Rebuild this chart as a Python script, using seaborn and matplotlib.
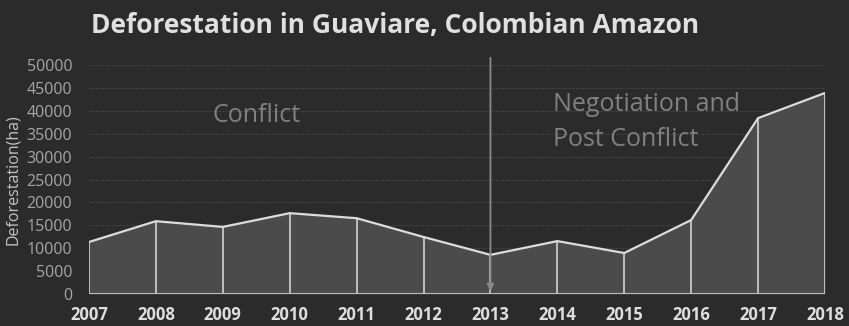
import matplotlib
matplotlib.use("Agg")
import matplotlib.pyplot as plt
import seaborn as sns
import pandas as pd

years = [2007, 2008, 2009, 2010, 2011, 2012, 2013, 2014, 2015, 2016, 2017, 2018]
deforestation = [11350, 15900, 14650, 17650, 16550, 12450, 8550, 11550, 8950, 16150, 38400, 43900]
yticks = [0, 5000, 10000, 15000, 20000, 25000, 30000, 35000, 40000, 45000, 50000]

df = pd.DataFrame({"year": years, "ha": deforestation})

sns.set_style("dark")
plt.rcParams['font.family'] = ['Open Sans', 'DejaVu Sans']

bg = "#2b2b2b"
fig = plt.figure(figsize=(8.49, 3.26), dpi=100, facecolor=bg)
ax = fig.add_axes([89/849, 1-294/326, (825-89)/849, (294-65)/326])
ax.set_facecolor(bg)

ax.fill_between(df["year"], df["ha"], 0, color="#4b4b4b", zorder=2, linewidth=0)
ax.vlines(df["year"], 0, df["ha"], color="#c8c8c8", linewidth=1.3, zorder=3)
sns.lineplot(data=df, x="year", y="ha", ax=ax, color="#dcdcdc", linewidth=1.6, zorder=4)
ax.axhline(0, color="#bdbdbd", linewidth=1.5, zorder=5)

ax.set_xlim(2007, 2018)
ax.set_ylim(0, 50000)
ax.set_yticks(yticks)
ax.set_yticklabels([str(v) for v in yticks])
ax.set_xticks(years)
ax.set_xticklabels([str(y) for y in years])
ax.grid(axis="y", color="#4a4a4a", linestyle=(0, (1, 1)), linewidth=0.8, zorder=1)
ax.grid(axis="x", visible=False)
for s in ax.spines.values():
    s.set_visible(False)
ax.tick_params(axis="y", colors="#a6a6a6", labelsize=11.5, length=0, pad=12)
ax.tick_params(axis="x", colors="#dedede", labelsize=12, length=0, pad=9)
for lab in ax.get_xticklabels():
    lab.set_fontweight("bold")
ax.set_xlabel("")
ax.set_ylabel("Deforestation(ha)", color="#c4c4c4", fontsize=11.5, labelpad=4)

# arrow at 2013
ax.annotate("", xy=(2013, 0), xytext=(2013, 52200),
            arrowprops=dict(arrowstyle="-|>", color="#8a8a8a", lw=1.3, mutation_scale=10),
            annotation_clip=False, zorder=6)

ax.text(2009.5, 39000, "Conflict", color="#808080", fontsize=18, ha="center", va="center", zorder=6)
ax.text(2013.93, 37600, "Negotiation and\nPost Conflict", color="#808080", fontsize=18,
        ha="left", va="center", linespacing=1.55, zorder=6)

fig.text(91/849, 1-25/326, "Deforestation in Guaviare, Colombian Amazon", color="#e0e0e0",
         fontsize=19, fontweight="bold", ha="left", va="center")

fig.savefig("out.png", dpi=100, facecolor=bg)
